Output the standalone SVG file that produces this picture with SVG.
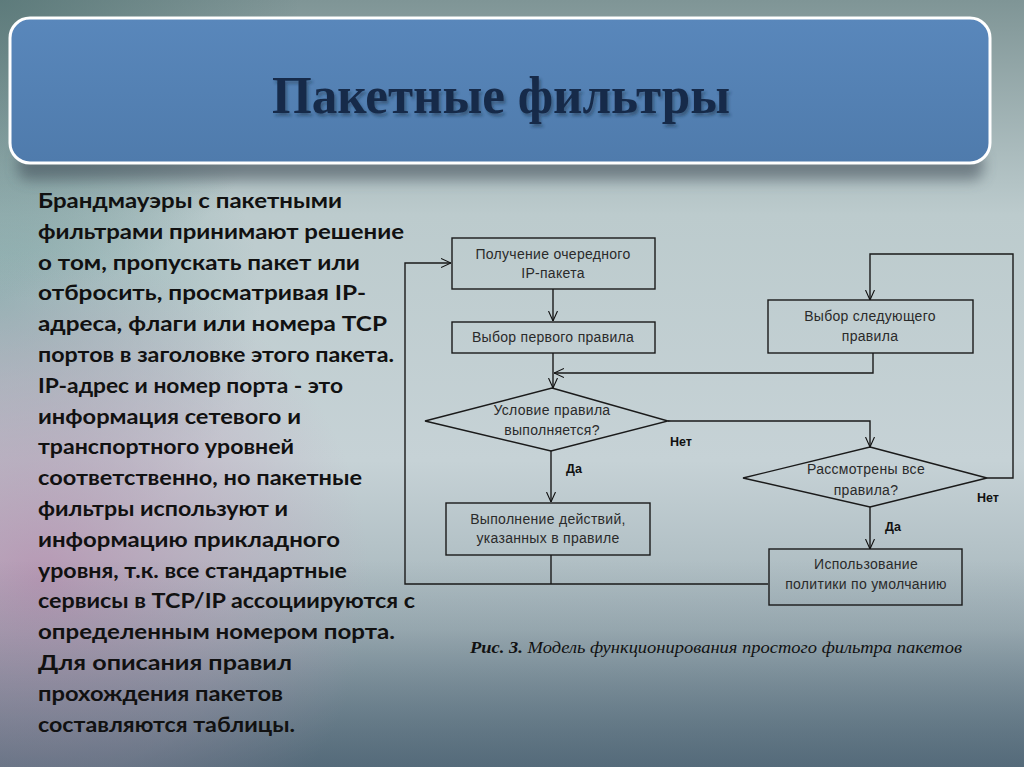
<svg xmlns="http://www.w3.org/2000/svg" width="1024" height="767" viewBox="0 0 1024 767">
<defs>
<linearGradient id="bg" x1="0" y1="0" x2="0" y2="1">
<stop offset="0" stop-color="#7f9596"/>
<stop offset="0.28" stop-color="#bccbcd"/>
<stop offset="0.6" stop-color="#c6d2d6"/>
<stop offset="0.82" stop-color="#a3b3b9"/>
<stop offset="1" stop-color="#5d7482"/>
</linearGradient>
<radialGradient id="pink" cx="40" cy="580" r="330" gradientUnits="userSpaceOnUse">
<stop offset="0" stop-color="#b88fb0" stop-opacity="0.8"/>
<stop offset="0.6" stop-color="#c0a4bc" stop-opacity="0.4"/>
<stop offset="1" stop-color="#c0a4bc" stop-opacity="0"/>
</radialGradient>
<radialGradient id="teal" cx="0" cy="300" r="260" gradientUnits="userSpaceOnUse">
<stop offset="0" stop-color="#7fa8a8" stop-opacity="0.7"/>
<stop offset="1" stop-color="#7fa8a8" stop-opacity="0"/>
</radialGradient>
<radialGradient id="dark" cx="0" cy="0" r="300" gradientUnits="userSpaceOnUse">
<stop offset="0" stop-color="#4f7070" stop-opacity="0.7"/>
<stop offset="1" stop-color="#4f7070" stop-opacity="0"/>
</radialGradient>
<linearGradient id="bot" x1="0" y1="0" x2="0" y2="1">
<stop offset="0" stop-color="#4a5f70" stop-opacity="0"/>
<stop offset="1" stop-color="#4a5f70" stop-opacity="0.45"/>
</linearGradient>
<linearGradient id="title" x1="0" y1="0" x2="0" y2="1">
<stop offset="0" stop-color="#5987bb"/>
<stop offset="1" stop-color="#4f7bac"/>
</linearGradient>
<filter id="blur" x="-10%" y="-50%" width="120%" height="200%">
<feGaussianBlur stdDeviation="7"/>
</filter>
<filter id="tshadow" x="-5%" y="-20%" width="110%" height="150%">
<feDropShadow dx="2" dy="3" stdDeviation="1.5" flood-color="#1a2a40" flood-opacity="0.45"/>
</filter>
<marker id="arr" viewBox="0 0 10 10" refX="10" refY="5" markerWidth="10" markerHeight="10" markerUnits="userSpaceOnUse" orient="auto">
<path d="M0,0.5 L10,5 L0,9.5" fill="none" stroke="#111" stroke-width="1.1"/>
</marker>
</defs>
<style>
.body{font-family:"Lato","Liberation Sans",sans-serif;font-weight:bold;font-size:21.5px;fill:#111}
.node rect,.node polygon{fill:none;stroke:#1a1a1a;stroke-width:1.4}
.node text{font-family:"Liberation Sans",Arial,sans-serif;font-size:14px;letter-spacing:0.3px;fill:#2a2a2a;text-anchor:middle}
.lbl{font-family:"Liberation Sans",Arial,sans-serif;font-size:12.5px;font-weight:bold;fill:#111}
#connectors path{fill:none;stroke:#1a1a1a;stroke-width:1.4}
.cap{font-family:"Liberation Serif","Times New Roman",serif;font-style:italic;font-size:16.5px;fill:#111}
</style>
<rect width="1024" height="767" fill="url(#bg)"/>
<rect width="1024" height="767" fill="url(#teal)"/>
<rect width="1024" height="767" fill="url(#pink)"/>
<rect width="1024" height="767" fill="url(#dark)"/>
<rect y="560" width="1024" height="207" fill="url(#bot)"/>

<g id="title-box">
<rect x="18" y="150" width="965" height="30" rx="10" fill="#3d4a55" opacity="0.55" filter="url(#blur)"/>
<rect x="10" y="18" width="980" height="145" rx="20" fill="url(#title)" stroke="#ffffff" stroke-width="3"/>
<text x="272" y="113" textLength="458" lengthAdjust="spacingAndGlyphs" font-family="Liberation Serif,Times New Roman,serif" font-weight="bold" font-size="52" fill="#172a48" filter="url(#tshadow)">Пакетные фильтры</text>
</g>

<g id="body-text" class="body">
<text x="38" y="208" textLength="304" lengthAdjust="spacingAndGlyphs">Брандмауэры с пакетными</text>
<text x="38" y="238.8" textLength="366" lengthAdjust="spacingAndGlyphs">фильтрами принимают решение</text>
<text x="38" y="269.6" textLength="322" lengthAdjust="spacingAndGlyphs">о том, пропускать пакет или</text>
<text x="38" y="300.4" textLength="328" lengthAdjust="spacingAndGlyphs">отбросить, просматривая IP-</text>
<text x="38" y="331.2" textLength="349" lengthAdjust="spacingAndGlyphs">адреса, флаги или номера TCP</text>
<text x="38" y="362" textLength="356" lengthAdjust="spacingAndGlyphs">портов в заголовке этого пакета.</text>
<text x="38" y="392.8" textLength="305" lengthAdjust="spacingAndGlyphs">IP-адрес и номер порта - это</text>
<text x="38" y="423.6" textLength="263" lengthAdjust="spacingAndGlyphs">информация сетевого и</text>
<text x="38" y="454.4" textLength="256" lengthAdjust="spacingAndGlyphs">транспортного уровней</text>
<text x="38" y="485.2" textLength="324" lengthAdjust="spacingAndGlyphs">соответственно, но пакетные</text>
<text x="38" y="516" textLength="250" lengthAdjust="spacingAndGlyphs">фильтры используют и</text>
<text x="38" y="546.8" textLength="302" lengthAdjust="spacingAndGlyphs">информацию прикладного</text>
<text x="38" y="577.6" textLength="309" lengthAdjust="spacingAndGlyphs">уровня, т.к. все стандартные</text>
<text x="38" y="608.4" textLength="377" lengthAdjust="spacingAndGlyphs">сервисы в TCP/IP ассоциируются с</text>
<text x="38" y="639.2" textLength="357" lengthAdjust="spacingAndGlyphs">определенным номером порта.</text>
<text x="38" y="670" textLength="254" lengthAdjust="spacingAndGlyphs">Для описания правил</text>
<text x="38" y="700.8" textLength="245" lengthAdjust="spacingAndGlyphs">прохождения пакетов</text>
<text x="38" y="731.6" textLength="257" lengthAdjust="spacingAndGlyphs">составляются таблицы.</text>
</g>

<g id="connectors">
<path d="M768,584 H405 V263 H451" marker-end="url(#arr)"/>
<path d="M551,555 V584"/>
<path d="M553,289 V321" marker-end="url(#arr)"/>
<path d="M553,353 V388" marker-end="url(#arr)"/>
<path d="M873,353 V373 H554" marker-end="url(#arr)"/>
<path d="M668,421 H870 V447" marker-end="url(#arr)"/>
<path d="M551,451 V502" marker-end="url(#arr)"/>
<path d="M870,507 V549" marker-end="url(#arr)"/>
<path d="M987,478 H1013 V254 H870 V300" marker-end="url(#arr)"/>
</g>

<g id="n-receive" class="node">
<rect x="452" y="238" width="203" height="51"/>
<text x="553" y="259">Получение очередного</text>
<text x="553" y="278">IP-пакета</text>
</g>
<g id="n-first" class="node">
<rect x="452" y="322" width="203" height="31"/>
<text x="553" y="342">Выбор первого правила</text>
</g>
<g id="n-next" class="node">
<rect x="768" y="300" width="205" height="53"/>
<text x="870" y="321">Выбор следующего</text>
<text x="870" y="341">правила</text>
</g>
<g id="n-cond" class="node">
<polygon points="552,388 668,421 551,451 425,421"/>
<text x="552" y="415">Условие правила</text>
<text x="552" y="435">выполняется?</text>
</g>
<g id="n-all" class="node">
<polygon points="870,447 987,478 870,507 743,478"/>
<text x="866" y="474">Рассмотрены все</text>
<text x="866" y="495">правила?</text>
</g>
<g id="n-action" class="node">
<rect x="446" y="503" width="204" height="52"/>
<text x="548" y="524">Выполнение действий,</text>
<text x="548" y="543">указанных в правиле</text>
</g>
<g id="n-default" class="node">
<rect x="769" y="549" width="193" height="56"/>
<text x="866" y="569">Использование</text>
<text x="866" y="589">политики по умолчанию</text>
</g>

<g id="labels">
<text class="lbl" x="670" y="446">Нет</text>
<text class="lbl" x="566" y="473">Да</text>
<text class="lbl" x="977" y="502">Нет</text>
<text class="lbl" x="885" y="531">Да</text>
</g>

<text class="cap" x="470" y="653" textLength="492" lengthAdjust="spacingAndGlyphs"><tspan font-weight="bold">Рис. 3.</tspan> Модель функционирования простого фильтра пакетов</text>
</svg>
